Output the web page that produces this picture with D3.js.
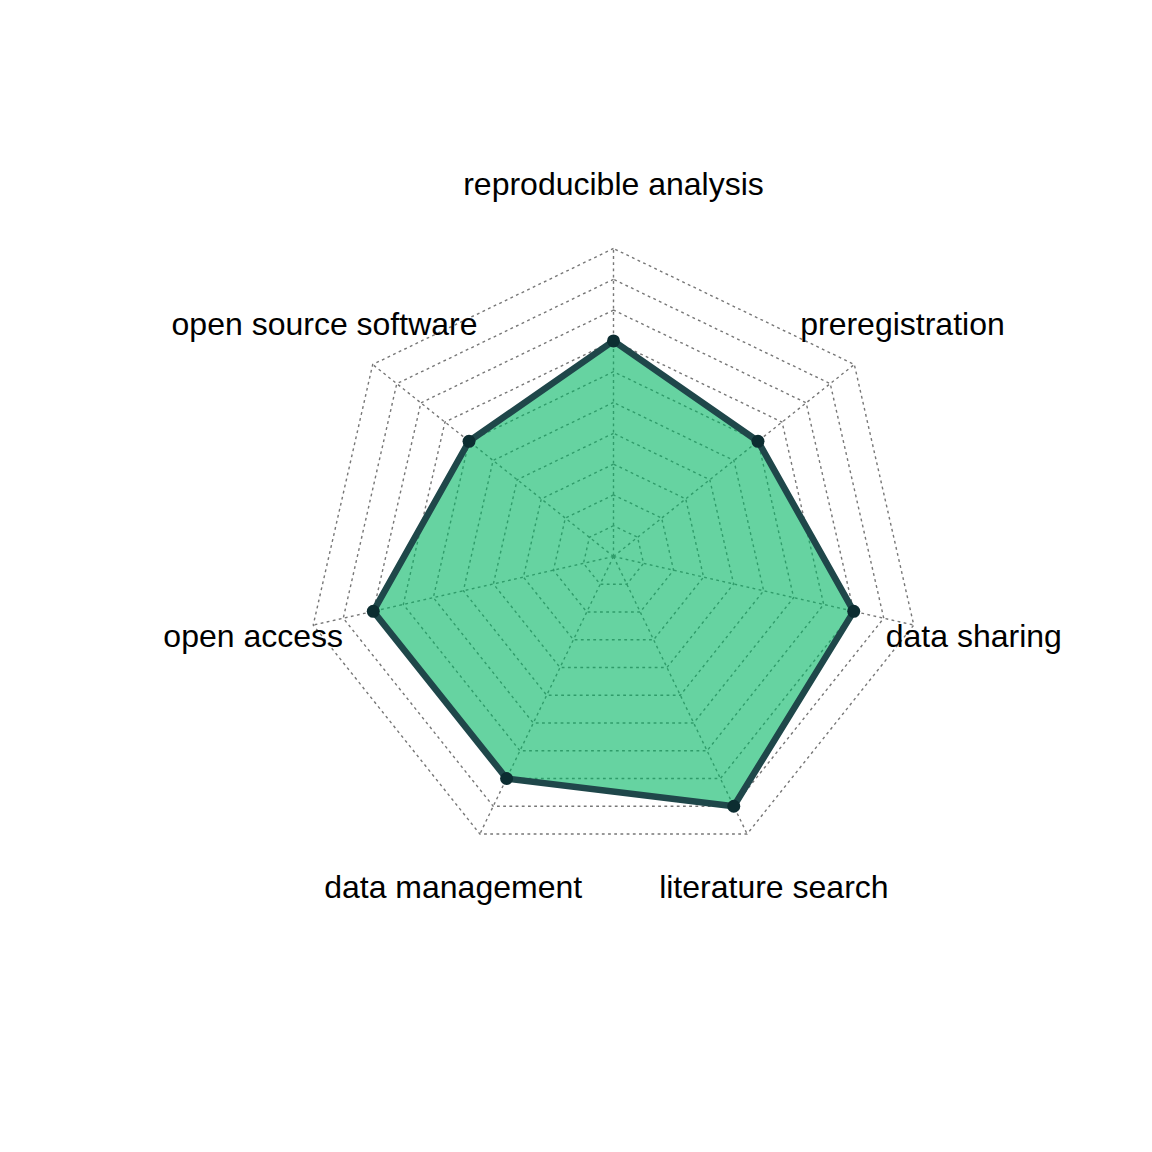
<!DOCTYPE html>
<html>
<head>
<meta charset="utf-8">
<script src="https://cdn.jsdelivr.net/npm/d3@7"></script>
<style>
  html, body { margin: 0; padding: 0; background: #ffffff; }
  svg { display: block; }
</style>
</head>
<body>
<div id="chart"></div>
<script>
// Data (fmsb-style radar, counter-clockwise from top)
const categories = ["reproducible analysis", "open source software", "open access",
  "data management", "literature search", "data sharing", "preregistration"];
const values = [7, 6, 8, 8, 9, 8, 6];
const maxValue = 10;
const gridLevels = [0, 1, 2, 3, 4, 5, 6, 7, 8, 9, 10];

const W = 1152, H = 1152;
const cx = 613.5, cy = 556.5, R = 308;

const svg = d3.select("#chart").append("svg")
  .attr("width", W).attr("height", H)
  .attr("viewBox", `0 0 ${W} ${H}`);

const n = categories.length;
const angle = d3.scaleLinear().domain([0, n]).range([Math.PI / 2, Math.PI / 2 + 2 * Math.PI]);
const r = d3.scaleLinear().domain([0, maxValue]).range([0, R]);

const px = (i, v) => cx + r(v) * Math.cos(angle(i));
const py = (i, v) => cy - r(v) * Math.sin(angle(i));

const g = svg.append("g");

// Grid polygons
const gridColor = "#777777";
const dash = "2.8,3.4";
gridLevels.filter(l => l > 0).forEach(l => {
  g.append("polygon")
    .attr("points", d3.range(n).map(i => [px(i, l), py(i, l)].join(",")).join(" "))
    .attr("fill", "none")
    .attr("stroke", gridColor)
    .attr("stroke-width", 1.4)
    .attr("stroke-dasharray", dash);
});
// center (level 0) dot
g.append("circle").attr("cx", cx).attr("cy", cy).attr("r", 1.6).attr("fill", gridColor);

// Axis lines
d3.range(n).forEach(i => {
  g.append("line")
    .attr("x1", cx).attr("y1", cy)
    .attr("x2", px(i, maxValue)).attr("y2", py(i, maxValue))
    .attr("stroke", gridColor)
    .attr("stroke-width", 1.4)
    .attr("stroke-dasharray", dash);
});

// Data polygon
const pts = values.map((v, i) => [px(i, v), py(i, v)]);
g.append("path")
  .attr("d", d3.line()(pts) + "Z")
  .attr("fill", "rgba(0,181,98,0.6)")
  .attr("stroke", "none");
g.append("path")
  .attr("d", d3.line()(pts) + "Z")
  .attr("fill", "none")
  .attr("stroke", "#1f474a")
  .attr("stroke-width", 6.5)
  .attr("stroke-linejoin", "round");

g.selectAll("circle.pt").data(pts).enter().append("circle")
  .attr("class", "pt")
  .attr("cx", d => d[0]).attr("cy", d => d[1])
  .attr("r", 6.5)
  .attr("fill", "#0c2d31");

// Labels at 1.2 * R
categories.forEach((c, i) => {
  g.append("text")
    .attr("x", cx + 1.2 * R * Math.cos(angle(i)))
    .attr("y", cy - 1.2 * R * Math.sin(angle(i)) + 8.5)
    .attr("text-anchor", "middle")
    .attr("font-family", "'Liberation Sans', Arial, Helvetica, sans-serif")
    .attr("font-size", 32)
    .attr("fill", "#000")
    .text(c);
});
</script>
</body>
</html>
